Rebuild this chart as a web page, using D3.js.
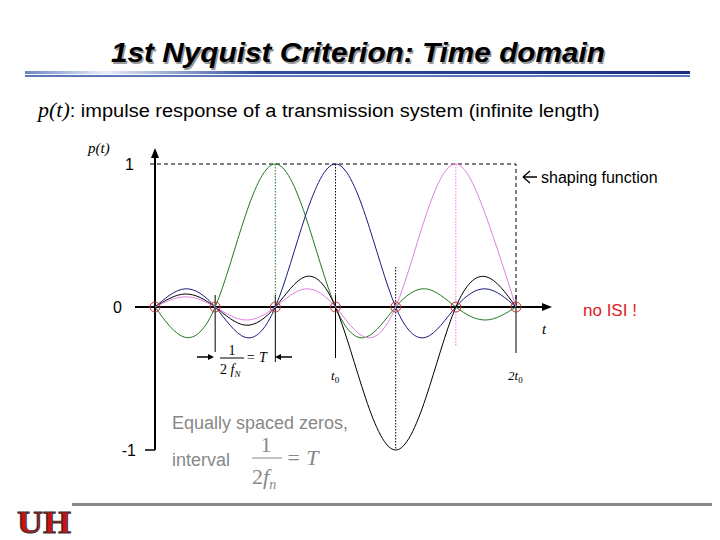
<!DOCTYPE html><html><head><meta charset="utf-8"><script src="https://cdn.jsdelivr.net/npm/d3@7"></script>
<style>body{margin:0;background:#fff}svg{display:block}</style></head><body><svg id="c" width="720" height="540"></svg>
<script>
const tSamples=[0,0.5,1,1.5,2,2.5,3,3.5,4,4.5,5,5.5,6];
const greenVals=[0,-0.212,0,0.637,1,0.637,0,-0.212,0,0.127,0,-0.091,0];
const blueVals=[0,0.127,0,-0.212,0,0.637,1,0.637,0,-0.212,0,0.127,0];
const blackVals=[0,0.091,0,-0.127,0,0.212,0,-0.637,-1,-0.637,0,0.212,0];
const pinkVals=[0,0.071,0,-0.091,0,0.127,0,-0.212,0,0.637,1,0.637,0];
const zeroTimes=[0,1,2,3,4,5,6];
const yTicks=[1,0,-1];
const svg=d3.select("#c");
const x=d3.scaleLinear().domain([0,6]).range([155,516]);
const y=d3.scaleLinear().domain([-1,1]).range([450,164]);
const defs=svg.append("defs");
const g1=defs.append("linearGradient").attr("id","bar");
g1.append("stop").attr("offset","0").attr("stop-color","#6a86c4");
g1.append("stop").attr("offset","0.12").attr("stop-color","#e8eef8");
g1.append("stop").attr("offset","0.35").attr("stop-color","#3050a0");
g1.append("stop").attr("offset","1").attr("stop-color","#1a2f80");
function title(dx,col){svg.append("text").attr("x",358+dx).attr("y",62+dx).attr("text-anchor","middle").attr("font-family","Liberation Sans").attr("font-weight","bold").attr("font-style","italic").attr("font-size",27).attr("fill",col).attr("textLength",494).attr("lengthAdjust","spacingAndGlyphs").text("1st Nyquist Criterion: Time domain");}
title(1.5,"#999");title(0,"#000");
svg.append("rect").attr("x",25).attr("y",71).attr("width",665).attr("height",3).attr("fill","url(#bar)");
svg.append("rect").attr("x",25).attr("y",75).attr("width",665).attr("height",2).attr("fill","#5a78b8");
const st=svg.append("text").attr("x",38).attr("y",117).attr("font-family","Liberation Sans").attr("font-size",18);
st.append("tspan").attr("font-family","Liberation Serif").attr("font-style","italic").attr("font-size",22).text("p(t)");
st.append("tspan").attr("textLength",530).attr("lengthAdjust","spacingAndGlyphs").text(": impulse response of a transmission system (infinite length)");
svg.append("text").attr("x",88).attr("y",153).attr("font-family","Liberation Serif").attr("font-style","italic").attr("font-size",15).text("p(t)");
svg.append("path").attr("d",`M${x(0)-5},${y(1)}H${x(6)}V${y(0)}`).attr("fill","none").attr("stroke","#000").attr("stroke-dasharray","4,3");
svg.append("line").attr("x1",135).attr("x2",545).attr("y1",y(0)).attr("y2",y(0)).attr("stroke","#000").attr("stroke-width",2);
svg.append("path").attr("d",`M552,${y(0)}l-10,-4v8z`);
svg.append("line").attr("x1",x(0)).attr("x2",x(0)).attr("y1",y(-1)).attr("y2",155).attr("stroke","#000").attr("stroke-width",2);
svg.append("path").attr("d",`M${x(0)},148l-4,10h8z`);
svg.append("line").attr("x1",x(0)-10).attr("x2",x(0)).attr("y1",y(-1)).attr("y2",y(-1)).attr("stroke","#000").attr("stroke-width",1.5);
svg.selectAll(".yt").data(yTicks).enter().append("text").attr("x",d=>d===0?122:(d===1?134:136)).attr("y",d=>y(d)+6).attr("text-anchor","end").attr("font-family","Liberation Sans").attr("font-size",16).text(d=>d);
[[1,295,352],[2,295,362],[3,295,358],[6,295,353]].forEach(([t,a,b])=>svg.append("line").attr("x1",x(t)).attr("x2",x(t)).attr("y1",a).attr("y2",b).attr("stroke","#000"));
[[2,y(1),y(0),"#2a7a2a"],[3,y(1),y(0),"#000"],[4,267,y(-1),"#000"],[5,y(1),347,"#e080e0"]].forEach(([t,a,b,c])=>svg.append("line").attr("x1",x(t)).attr("x2",x(t)).attr("y1",a).attr("y2",b).attr("stroke",c).attr("stroke-dasharray","1.5,1.5"));
const line=d3.line().x((d,i)=>x(tSamples[i])).y(d=>y(d)).curve(d3.curveNatural);
[[greenVals,"#1f7a1f"],[blueVals,"#1a1a80"],[blackVals,"#000"],[pinkVals,"#e07ee0"]].forEach(([v,c])=>svg.append("path").attr("d",line(v)).attr("fill","none").attr("stroke",c).attr("stroke-width",1));
svg.selectAll(".z").data(zeroTimes).enter().append("circle").attr("cx",d=>x(d)).attr("cy",y(0)).attr("r",5).attr("fill","none").attr("stroke","#c03030").attr("stroke-width",1);
const ser={"font-family":"Liberation Serif","font-style":"italic"};
function txt(xx,yy,s,o){const t=svg.append("text").attr("x",xx).attr("y",yy).text(s);for(const k in o)t.attr(k,o[k]);return t;}
txt(542,334,"t",{...ser,"font-size":15});
const t0=txt(331,380,"t",{...ser,"font-size":13});t0.append("tspan").attr("font-size",9).attr("dy",3).attr("font-style","normal").text("0");
const t2=txt(508,380,"2t",{...ser,"font-size":13});t2.append("tspan").attr("font-size",9).attr("dy",3).attr("font-style","normal").text("0");
svg.append("line").attr("x1",197).attr("x2",210).attr("y1",357).attr("y2",357).attr("stroke","#000").attr("stroke-width",1.5);
svg.append("path").attr("d","M214,357l-6,-3v6z");
svg.append("line").attr("x1",292).attr("x2",279).attr("y1",357).attr("y2",357).attr("stroke","#000").attr("stroke-width",1.5);
svg.append("path").attr("d","M275,357l6,-3v6z");
txt(232,355,"1",{"font-family":"Liberation Serif","font-size":14,"text-anchor":"middle"});
svg.append("line").attr("x1",220).attr("x2",244).attr("y1",358).attr("y2",358).attr("stroke","#000");
const fn=txt(220,374,"2",{"font-family":"Liberation Serif","font-size":14});fn.append("tspan").attr("font-style","italic").text(" f");fn.append("tspan").attr("font-size",9).attr("dy",3).attr("font-style","italic").text("N");
txt(246,362,"= T",{...ser,"font-size":14});
svg.append("path").attr("d","M523,177h14M523,177l7,-6M523,177l7,6").attr("fill","none").attr("stroke","#000").attr("stroke-width",1.3);
txt(541,183,"shaping function",{"font-family":"Liberation Sans","font-size":16});
txt(583,316,"no ISI !",{"font-family":"Liberation Sans","font-size":17,"fill":"#e02020"});
txt(172,429,"Equally spaced zeros,",{"font-family":"Liberation Sans","font-size":18,"fill":"#888"});
txt(172,466,"interval",{"font-family":"Liberation Sans","font-size":18,"fill":"#888"});
txt(266,452,"1",{"font-family":"Liberation Serif","font-size":22,"text-anchor":"middle","fill":"#888"});
svg.append("line").attr("x1",252).attr("x2",282).attr("y1",458).attr("y2",458).attr("stroke","#888");
const f2=txt(252,484,"2",{"font-family":"Liberation Serif","font-size":22,"fill":"#888"});f2.append("tspan").attr("font-style","italic").text("f");f2.append("tspan").attr("font-style","italic").attr("font-size",14).attr("dy",5).text("n");
txt(286,465,"= T",{...ser,"font-size":22,"fill":"#888"});
svg.append("rect").attr("x",72).attr("y",503).attr("width",640).attr("height",3).attr("fill","#888");
txt(17,533,"UH",{"font-family":"Liberation Serif","font-weight":"bold","font-size":32,"fill":"#cc1111","stroke":"#333","stroke-width":1,"textLength":54,"lengthAdjust":"spacingAndGlyphs"});
</script></body></html>
